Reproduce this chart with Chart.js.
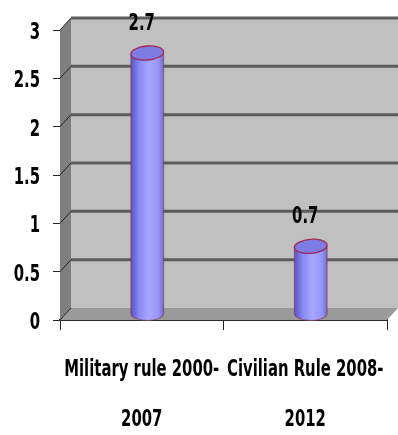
<!DOCTYPE html>
<html>
<head>
<meta charset="utf-8">
<script src="https://cdn.jsdelivr.net/npm/chart.js@4/dist/chart.umd.min.js"></script>
<style>
  html, body { margin: 0; padding: 0; background: #fff; }
  #chart { display: block; }
</style>
</head>
<body>
<canvas id="chart" width="398" height="435"></canvas>
<script>
const categories = [
  ['Military rule 2000-', '2007'],
  ['Civilian Rule 2008-', '2012'],
]
const values = [2.7, 0.7]
const valueLabels = ['2.7', '0.7']
const yTickLabels = ['0', '0.5', '1', '1.5', '2', '2.5', '3']

// tall, narrow bold lettering: condensed font stretched vertically
const textFont = "bold 16.5px 'DejaVu Sans Condensed', 'DejaVu Sans', sans-serif"
const textStretch = 1.4

// depth of the fake 3d box (x to the right, y upwards)
const depthX = 11
const depthY = 12

function drawTallText (ctx, text, x, y, align) {
  ctx.save()
  ctx.translate(x, y)
  ctx.scale(1, textStretch)
  ctx.font = textFont
  ctx.fillStyle = '#000'
  ctx.textAlign = align
  ctx.textBaseline = 'middle'
  ctx.fillText(text, 0, 0)
  ctx.restore()
}

const wallPlugin = {
  id: 'wall',
  beforeDatasetsDraw (chart) {
    const ctx = chart.ctx
    const area = chart.chartArea
    const y = chart.scales.y
    const left = area.left
    const right = area.right
    const top = area.top
    const bottom = area.bottom
    ctx.save()

    // back wall
    ctx.fillStyle = '#c0c0c0'
    ctx.fillRect(left + depthX, top - depthY, right - left, bottom - top)

    // left side wall
    ctx.fillStyle = '#7f7f7f'
    ctx.beginPath()
    ctx.moveTo(left, top)
    ctx.lineTo(left + depthX, top - depthY)
    ctx.lineTo(left + depthX, bottom - depthY)
    ctx.lineTo(left, bottom)
    ctx.closePath()
    ctx.fill()

    // floor
    ctx.fillStyle = '#9a9a9a'
    ctx.beginPath()
    ctx.moveTo(left, bottom)
    ctx.lineTo(left + depthX, bottom - depthY)
    ctx.lineTo(right + depthX, bottom - depthY)
    ctx.lineTo(right, bottom)
    ctx.closePath()
    ctx.fill()

    // gridlines on the back wall and the slanted ticks on the side wall
    y.ticks.forEach(function (t) {
      const py = y.getPixelForValue(t.value)
      if (t.value > 0) {
        ctx.strokeStyle = '#5c5c5c'
        ctx.lineWidth = 3
        ctx.beginPath()
        ctx.moveTo(left + depthX, py - depthY)
        ctx.lineTo(right + depthX, py - depthY)
        ctx.stroke()
      }
      ctx.strokeStyle = '#222'
      ctx.lineWidth = 1
      ctx.beginPath()
      ctx.moveTo(left, py)
      ctx.lineTo(left + depthX, py - depthY)
      ctx.stroke()
    })
    ctx.restore()
  },
}

const cylinderPlugin = {
  id: 'cylinders',
  afterDatasetsDraw (chart) {
    const ctx = chart.ctx
    const meta = chart.getDatasetMeta(0)
    ctx.save()
    meta.data.forEach(function (bar, i) {
      const cx = bar.x + depthX / 2
      const topY = bar.y - depthY / 2
      const baseY = bar.base - depthY / 2
      const rx = bar.width / 2
      const ry = 7
      const x0 = cx - rx
      const x1 = cx + rx

      const grad = ctx.createLinearGradient(x0, 0, x1, 0)
      grad.addColorStop(0, '#5454c4')
      grad.addColorStop(0.25, '#8888f2')
      grad.addColorStop(0.55, '#a8a8ff')
      grad.addColorStop(0.85, '#9494f4')
      grad.addColorStop(1, '#6c6cd4')

      // body with rounded bottom
      ctx.beginPath()
      ctx.moveTo(x0, topY)
      ctx.lineTo(x0, baseY)
      ctx.ellipse(cx, baseY, rx, ry, 0, Math.PI, 0, true)
      ctx.lineTo(x1, topY)
      ctx.closePath()
      ctx.fillStyle = grad
      ctx.fill()
      ctx.strokeStyle = 'rgba(150, 40, 80, 0.55)'
      ctx.lineWidth = 1.2
      ctx.stroke()

      // top cap
      ctx.beginPath()
      ctx.ellipse(cx, topY, rx, ry, -0.08, 0, Math.PI * 2)
      ctx.fillStyle = '#7c7ce2'
      ctx.fill()
      ctx.strokeStyle = '#a02a55'
      ctx.lineWidth = 1.3
      ctx.stroke()

      // value label above the cylinder
      drawTallText(ctx, valueLabels[i], bar.x, bar.y - 35, 'center')
    })
    ctx.restore()
  },
}

// axis labels are drawn here so they can be stretched; positions come from the scales
const axisLabelPlugin = {
  id: 'axisLabels',
  afterDraw (chart) {
    const ctx = chart.ctx
    const xScale = chart.scales.x
    const yScale = chart.scales.y
    yScale.ticks.forEach(function (t, i) {
      const py = yScale.getPixelForValue(t.value)
      drawTallText(ctx, yTickLabels[i], yScale.right - 20, py + 3, 'right')
    })
    categories.forEach(function (lines, i) {
      const px = xScale.getPixelForTick(i)
      lines.forEach(function (line, j) {
        drawTallText(ctx, line, px, xScale.top + 50 + j * 50, 'center')
      })
    })
  },
}

const config = {
  type: 'bar',
  data: {
    labels: categories,
    datasets: [{
      data: values,
      backgroundColor: 'rgba(0,0,0,0)',
      borderWidth: 0,
      barPercentage: 0.2,
      categoryPercentage: 1,
    }],
  },
  options: {
    responsive: false,
    animation: false,
    layout: {
      padding: { left: 0, right: 11, top: 30, bottom: 0 },
    },
    plugins: {
      legend: { display: false },
      tooltip: { enabled: false },
    },
    scales: {
      x: {
        grid: {
          drawOnChartArea: false,
          tickLength: 10,
          color: '#222',
        },
        border: { display: true, color: '#2a2a2a', width: 2 },
        ticks: {
          display: false,
          autoSkip: false,
        },
        afterFit (scale) {
          scale.height = 115
        },
      },
      y: {
        min: 0,
        max: 3,
        ticks: {
          display: false,
          stepSize: 0.5,
        },
        grid: {
          drawOnChartArea: false,
          tickLength: 7,
          color: '#222',
        },
        border: { display: true, color: '#444', width: 1 },
        afterFit (scale) {
          scale.width = 60
        },
      },
    },
  },
  plugins: [wallPlugin, cylinderPlugin, axisLabelPlugin],
}

const ctx = document.getElementById('chart').getContext('2d')
const myChart = new Chart(ctx, config)
</script>
</body>
</html>
